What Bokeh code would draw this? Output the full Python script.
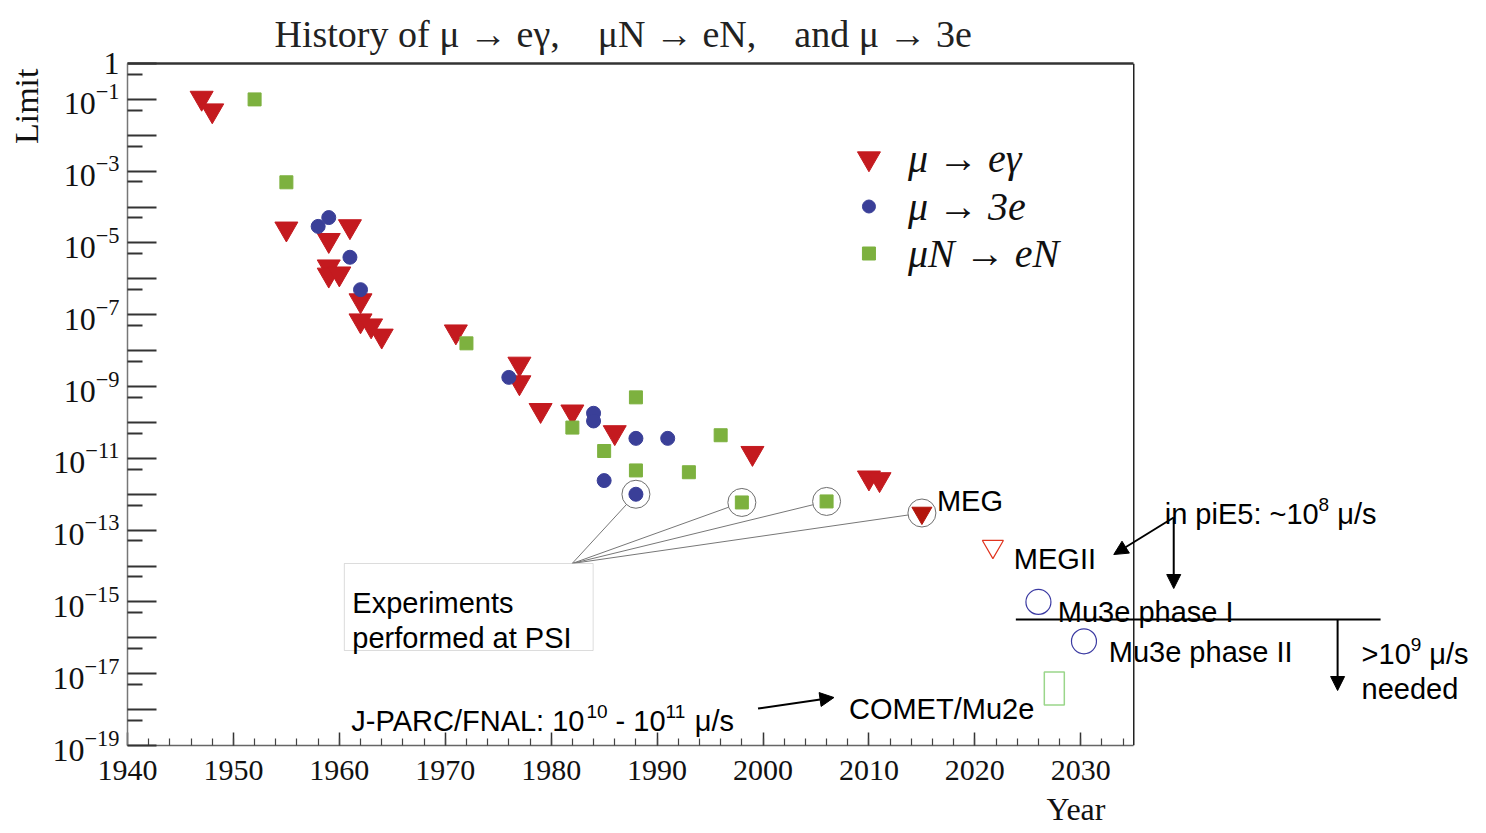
import math
from bokeh.plotting import figure
from bokeh.models import (Range1d, FixedTicker, LinearAxis, Label, Title, LogTickFormatter,
                          Arrow, NormalHead, BoxAnnotation, Span)
from bokeh.embed import file_html
from bokeh.resources import INLINE

# ---------------- data ----------------
# mu -> e gamma
eg_years = [1947, 1948, 1955, 1959, 1961, 1959, 1959, 1960, 1962, 1962, 1963, 1964, 1971,
            1977, 1977, 1979, 1982, 1986, 1999, 2010, 2011]
eg_limits = [1.1e-1, 4.9e-2, 2.5e-5, 1.2e-5, 2.9e-5, 2.2e-6, 1.3e-6, 1.4e-6, 2.5e-7, 6.9e-8,
             5.0e-8, 2.6e-8, 3.4e-8, 4.3e-9, 1.3e-9, 2.2e-10, 2.0e-10, 5.3e-11, 1.4e-11,
             2.9e-12, 2.6e-12]
# MEG (PSI)
meg_year = [2015]
meg_limit = [3.0e-13]
# mu -> 3e
e3_years = [1958, 1959, 1961, 1962, 1976, 1984, 1984, 1988, 1991, 1985, 1988]
e3_limits = [2.9e-5, 5.1e-5, 4.0e-6, 5.0e-7, 1.8e-9, 1.8e-10, 1.1e-10, 3.6e-11, 3.6e-11,
             2.4e-12, 1.0e-12]
# mu N -> e N
en_years = [1952, 1955, 1972, 1982, 1988, 1985, 1988, 1993, 1996, 1998, 2006]
en_limits = [1.0e-1, 4.9e-4, 1.6e-8, 7.2e-11, 5.0e-10, 1.6e-11, 4.6e-12, 4.1e-12, 4.4e-11,
             5.9e-13, 6.3e-13]
# experiments performed at PSI (circled)
psi_years = [1988, 1998, 2006, 2015]
psi_limits = [1.0e-12, 5.9e-13, 6.3e-13, 3.0e-13]
# future experiments (open markers)
megii_year, megii_limit = [2021.7], [3.5e-14]
mu3e_years, mu3e_limits = [2026.0, 2030.3], [1.0e-15, 8.0e-17]
comet_year, comet_limit = [2027.5], [3.9e-18]

legend_labels = ["μ → eγ", "μ → 3e", "μN → eN"]
title_text = "History of μ → eγ,\u2003μN → eN,\u2003and μ → 3e"

x_major = list(range(1940, 2031, 10))
x_minor = list(range(1942, 2035, 2))
y_major = [10.0 ** -k for k in range(0, 20)]
y_minor = [5 * 10.0 ** -k for k in range(1, 20)]
y_unlabelled = [10.0 ** -k for k in range(2, 20, 2)]

RED, BLUE, GREEN = "#c41a1f", "#3a3f98", "#7db13f"

# ---------------- layout ----------------
W, H = 1486, 833
FL, FT, FB, FRP = 126, 63, 745, 5
PPY = 10.6
x_end = 1940 + (W - FL - FRP) / PPY
DEC = (FB - FT) / 19.0


def X(px):
    return 1940 + (px - FL) / PPY


def Y(py):
    return 10 ** (-(py - FT) / DEC)


def PX(year):
    return FL + (year - 1940) * PPY


def PY(v):
    return FT - math.log10(v) * DEC


p = figure(width=W, height=H, x_range=Range1d(1940, x_end), y_range=Range1d(1e-19, 1),
           y_axis_type="log", output_backend="svg", toolbar_location=None, title=None,
           min_border_left=FL, min_border_right=FRP, min_border_top=FT, min_border_bottom=H - FB)
p.outline_line_color = None
p.grid.visible = False

xa = p.xaxis[0]
xa.ticker = FixedTicker(ticks=x_major, minor_ticks=x_minor)
xa.bounds = (1940, 2035)
xa.major_tick_in, xa.major_tick_out = 13, 0
xa.minor_tick_in, xa.minor_tick_out = 7, 0
xa.axis_line_color = "#666"
xa.axis_line_width = 1.5
xa.major_tick_line_color = "#333"
xa.minor_tick_line_color = "#444"
xa.major_tick_line_width = 1.5
xa.minor_tick_line_width = 1.2
xa.major_label_text_font = "Liberation Serif"
xa.major_label_text_font_size = "30px"
xa.major_label_text_color = "#111"
xa.major_label_standoff = 15

ya = p.yaxis[0]
ya.ticker = FixedTicker(ticks=y_major, minor_ticks=y_minor)
ya.formatter = LogTickFormatter()
overrides = {v: "" for v in y_unlabelled}
overrides[1.0] = "1"
ya.major_label_overrides = overrides
ya.major_tick_in, ya.major_tick_out = 29, 0
ya.minor_tick_in, ya.minor_tick_out = 15, 0
ya.axis_line_color = "#777"
ya.axis_line_width = 1.5
ya.major_tick_line_color = "#333"
ya.minor_tick_line_color = "#333"
ya.major_tick_line_width = 2
ya.minor_tick_line_width = 2
ya.major_label_text_font = "Liberation Serif"
ya.major_label_text_font_size = "32px"
ya.major_label_text_color = "#111"
ya.major_label_standoff = 8

top = LinearAxis(bounds=(1940, 2035), ticker=FixedTicker(ticks=[]),
                 axis_line_color="#333", axis_line_width=2.5,
                 major_tick_line_color=None, minor_tick_line_color=None)
p.add_layout(top, "above")
p.add_layout(Title(text=title_text, align="left", offset=273 - FL, standoff=18,
                   text_font="Liberation Serif", text_font_size="38px", text_font_style="normal",
                   text_color="#222"), "above")
p.add_layout(Title(text="Limit", align="right", offset=5, standoff=10,
                   text_font="Liberation Serif", text_font_size="34px", text_font_style="normal",
                   text_color="#111"), "left")
p.add_layout(Title(text="Year", align="left", offset=1076 - FL - 31, standoff=12,
                   text_font="Liberation Serif", text_font_size="32px", text_font_style="normal",
                   text_color="#111"), "below")
p.add_layout(Span(location=2035, dimension="height", line_color="#222", line_width=1.5))

# ---------------- data marks ----------------
p.scatter(eg_years, eg_limits, marker="inverted_triangle", size=23, fill_color=RED, line_color=RED)
p.scatter(e3_years, e3_limits, marker="circle", size=14, fill_color=BLUE, line_color=BLUE)
p.scatter(en_years, en_limits, marker="square", size=13, fill_color=GREEN, line_color=GREEN)
p.scatter(meg_year, meg_limit, marker="inverted_triangle", size=20, fill_color="#b3160c",
          line_color="#b3160c")
p.scatter(psi_years, psi_limits, marker="circle", size=28, fill_color=None, line_color="#6e6e6e",
          line_width=1)

p.scatter(megii_year, megii_limit, marker="inverted_triangle", size=21, fill_color=None,
          line_color="#e0341f", line_width=1.2)
p.scatter(mu3e_years, mu3e_limits, marker="circle", size=25, fill_color=None,
          line_color="#3b3aa2", line_width=1.2)
p.rect(comet_year, comet_limit, width=20, height=33, width_units="screen", height_units="screen",
       fill_color=None, line_color="#9ad68a", line_width=1.5)

# leader lines from the PSI box to the circled points
AX, AY, RC = 571, 563, 14
x0s, y0s, x1s, y1s = [], [], [], []
for yr, v in zip(psi_years, psi_limits):
    cx, cy = PX(yr), PY(v)
    dx, dy = cx - AX, cy - AY
    d = math.hypot(dx, dy)
    x0s.append(X(AX)); y0s.append(Y(AY))
    x1s.append(X(cx - RC * dx / d)); y1s.append(Y(cy - RC * dy / d))
p.segment(x0s, y0s, x1s, y1s, line_color="#777", line_width=1)

p.add_layout(BoxAnnotation(left=X(343), right=X(592), top=Y(563), bottom=Y(650),
                           fill_color="white", fill_alpha=1, line_color="#8a8a8a", line_width=1))

# ---------------- legend (key swatches + labels) ----------------
leg_x = X(868)
leg_rows = [Y(158), Y(206), Y(253)]
p.scatter([leg_x], [leg_rows[0]], marker="inverted_triangle", size=23, fill_color=RED, line_color=RED)
p.scatter([leg_x], [leg_rows[1]], marker="circle", size=13, fill_color=BLUE, line_color=BLUE)
p.scatter([leg_x], [leg_rows[2]], marker="square", size=13, fill_color=GREEN, line_color=GREEN)
for lab, yy in zip(legend_labels, leg_rows):
    p.add_layout(Label(x=X(907), y=yy, text=lab, text_align="left", text_baseline="middle",
                       text_font="Liberation Serif", text_font_style="italic",
                       text_font_size="40px", text_color="#111"))

# ---------------- text annotations ----------------
ARIAL = {" ": 278, "-": 333, "/": 278, ":": 278, "~": 584, ">": 584, "J": 500, "P": 667, "A": 667,
         "R": 722, "C": 722, "F": 611, "N": 722, "L": 556, "E": 667, "i": 222, "n": 556, "p": 556,
         "μ": 576, "s": 500}


def tw(s, size):
    return sum(ARIAL.get(c, 556) for c in s) * size / 1000.0


def runs(x0, base, parts):
    x = x0
    for txt, size, rise in parts:
        stripped = txt.lstrip(" ")
        lead = tw(txt[:len(txt) - len(stripped)], size)
        p.add_layout(Label(x=X(x + lead), y=Y(base), text=stripped, text_font="Liberation Sans",
                           text_font_size="%dpx" % size, text_baseline="alphabetic",
                           text_align="left", y_offset=rise, text_color="black"))
        x += tw(txt, size)


FS, SS, RISE = 29, 19, 9
runs(936, 500, [("MEG", FS, 0)])
runs(1013, 558, [("MEGII", FS, 0)])
runs(1164, 513, [("in piE5: ~10", FS, 0), ("8", SS, RISE), (" μ/s", FS, 0)])
runs(1057, 611, [("Mu3e phase I", FS, 0)])
runs(1108, 651, [("Mu3e phase II", FS, 0)])
runs(1361, 653, [(">10", FS, 0), ("9", SS, RISE), (" μ/s", FS, 0)])
runs(1361, 688, [("needed", FS, 0)])
runs(848, 708, [("COMET/Mu2e", FS, 0)])
runs(350, 720, [("J-PARC/FNAL: 10", FS, 0), ("10", SS, RISE), (" - 10", FS, 0), ("11", SS, RISE),
                (" μ/s", FS, 0)])
runs(351, 602, [("Experiments", FS, 0)])
runs(351, 637, [("performed at PSI", FS, 0)])

# arrows and lines


def arrow(x0, y0, x1, y1, head=True):
    p.add_layout(Arrow(x_start=X(x0), y_start=Y(y0), x_end=X(x1), y_end=Y(y1), line_width=2,
                       line_color="black",
                       end=NormalHead(size=14, fill_color="black", line_color="black") if head else None))


arrow(757, 708, 833, 697)
arrow(1173, 517, 1113, 554)
arrow(1173, 517, 1173, 588)
arrow(1337, 619, 1337, 690)
arrow(1015, 619, 1380, 619, head=False)

open("out.html", "w").write(file_html(p, INLINE))
